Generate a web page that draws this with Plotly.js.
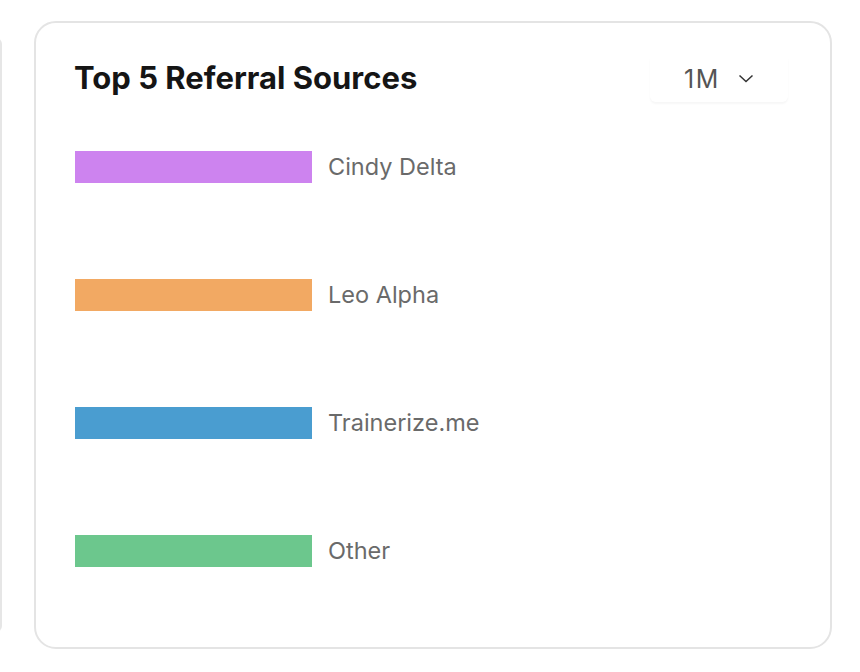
<!DOCTYPE html>
<html>
<head>
<meta charset="utf-8">
<script src="https://cdn.plot.ly/plotly-3.0.1.min.js"></script>
<style>
  html, body { margin: 0; padding: 0; background: #ffffff; width: 860px; height: 672px; overflow: hidden; font-family: Inter, Lato, sans-serif; }
  #leftcard { position: absolute; left: -20px; top: 38px; width: 20px; height: 594px; border-right: 2px solid #e6e6e6; border-radius: 0 6px 6px 0; }
  #card { position: absolute; left: 34px; top: 21px; width: 794px; height: 624px; border: 2px solid #e4e4e4; border-radius: 22px; background: #fff; }
  #dd { position: absolute; left: 650px; top: 54px; width: 138px; height: 48px; border-radius: 6px; box-shadow: 0 2px 2px rgba(0,0,0,0.035); }
  #dd span { position: absolute; left: 34px; top: 10px; font-size: 25px; letter-spacing: 1.5px; color: #555555; font-family: Inter, sans-serif; }
  #dd svg { position: absolute; left: 88px; top: 20px; }
  #chart { position: absolute; left: 0; top: 0; width: 860px; height: 672px; }
</style>
</head>
<body>
<div id="leftcard"></div>
<div id="card"></div>
<div id="dd"><span>1M</span><svg width="16" height="9" viewBox="0 0 16 9"><polyline points="1.5,1.5 8,7.5 14.5,1.5" fill="none" stroke="#333" stroke-width="1.5"/></svg></div>
<div id="chart"></div>
<script>
const titleText = "Top 5 Referral Sources";
const sources = ["Cindy Delta", "Leo Alpha", "Trainerize.me", "Other"];
const referrals = [1, 1, 1, 1];
const barColors = ["#cd83ef", "#f2a963", "#4a9dd0", "#6cc78d"];

const W = 860, H = 672;
const mL = 75, mR = 30, mT = 103, mB = 57;
const plotW = W - mL - mR;
const barPx = 237;
const maxV = Math.max(...referrals);
const xMax = maxV * plotW / barPx;

const trace = {
  type: 'bar',
  orientation: 'h',
  y: sources,
  x: referrals,
  marker: { color: barColors },
  hoverinfo: 'none'
};

const annotations = sources.map((s, i) => ({
  x: referrals[i], y: s, xref: 'x', yref: 'y',
  text: s, showarrow: false, xanchor: 'left', yanchor: 'middle',
  xshift: 14, yshift: 1,
  font: { family: 'Inter, sans-serif', size: 23.5, color: '#6a6a6a' }
}));

const layout = {
  width: W, height: H,
  margin: { l: mL, r: mR, t: mT, b: mB },
  paper_bgcolor: 'rgba(0,0,0,0)',
  plot_bgcolor: 'rgba(0,0,0,0)',
  bargap: 0.75,
  showlegend: false,
  title: {
    text: '<b>' + titleText + '</b>',
    x: 74 / W, xref: 'container', xanchor: 'left',
    y: 1 - 78 / H, yref: 'container', yanchor: 'middle',
    font: { family: 'Inter, sans-serif', size: 31, color: '#151515' }
  },
  xaxis: { range: [0, xMax], visible: false, fixedrange: true },
  yaxis: { autorange: 'reversed', visible: false, fixedrange: true, type: 'category' },
  annotations: annotations
};

Plotly.newPlot('chart', [trace], layout, { displayModeBar: false, staticPlot: true });
</script>
</body>
</html>
